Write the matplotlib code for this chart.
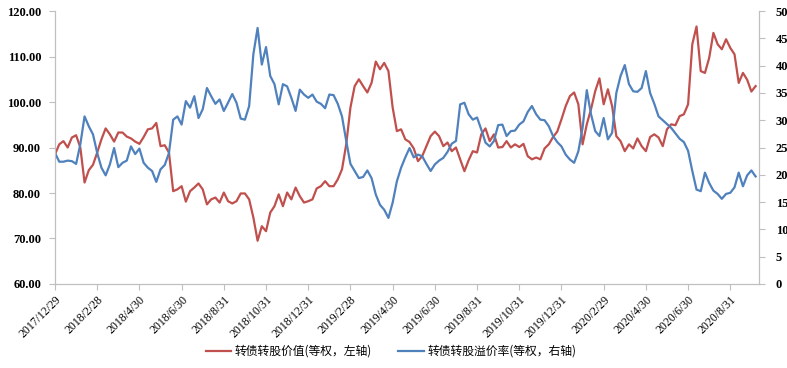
import numpy as np
import matplotlib.pyplot as plt

# tick labels, one every 10 samples
tick_labels = ['2017/12/29', '2018/2/28', '2018/4/30', '2018/6/30', '2018/8/31',
               '2018/10/31', '2018/12/31', '2019/2/28', '2019/4/30', '2019/6/30',
               '2019/8/31', '2019/10/31', '2019/12/31', '2020/2/29', '2020/4/30',
               '2020/6/30', '2020/8/31']

# 转债转股价值 (left axis)
conv_value = [
    88.5, 90.7, 91.4, 90.0, 92.2, 92.7, 90.0, 82.3, 85.0, 86.2,
    88.9, 91.8, 94.2, 92.9, 91.3, 93.3, 93.3, 92.4, 92.0, 91.3,
    90.8, 92.3, 94.0, 94.2, 95.4, 90.3, 90.5, 88.9, 80.4, 80.8,
    81.5, 78.1, 80.4, 81.2, 82.1, 80.8, 77.5, 78.6, 79.0, 77.9,
    80.1, 78.2, 77.7, 78.2, 79.9, 79.9, 78.6, 74.6, 69.5, 72.7,
    71.6, 75.7, 77.1, 79.7, 77.1, 80.1, 78.6, 81.2, 79.3, 77.9,
    78.2, 78.6, 81.0, 81.5, 82.6, 81.5, 81.5, 83.0, 85.2, 90.7,
    98.8, 103.5, 105.0, 103.5, 102.1, 104.2, 108.9, 107.2, 108.6, 106.8,
    98.8, 93.6, 94.0, 91.8, 91.2, 89.8, 87.0, 88.1, 90.3, 92.5,
    93.5, 92.5, 90.3, 91.1, 89.2, 90.0, 87.4, 84.8, 87.2, 89.2,
    88.9, 92.9, 94.2, 91.4, 92.9, 90.0, 90.1, 91.4, 90.0, 90.7,
    90.1, 90.8, 88.1, 87.4, 87.8, 87.4, 89.8, 90.7, 92.3, 93.5,
    96.2, 99.1, 101.3, 102.1, 99.5, 90.7, 95.1, 98.4, 102.4, 105.2,
    99.5, 102.8, 99.1, 92.5, 91.4, 89.2, 90.7, 89.8, 92.0, 90.3,
    89.2, 92.3, 92.9, 92.2, 90.3, 94.0, 95.1, 94.9, 96.9, 97.3,
    99.5, 112.7, 116.6, 106.8, 106.4, 109.7, 115.2, 112.7, 111.6, 113.8,
    111.9, 110.5, 104.2, 106.4, 104.9, 102.3, 103.5]

# 转债转股溢价率 (right axis)
premium = [
    24.0, 22.4, 22.4, 22.6, 22.5, 22.0, 25.6, 30.7, 28.9, 27.4,
    24.0, 21.3, 19.9, 21.9, 24.9, 21.4, 22.2, 22.6, 25.2, 23.8,
    24.8, 22.2, 21.3, 20.7, 18.7, 21.0, 21.8, 24.0, 30.1, 30.7,
    29.2, 33.5, 32.3, 34.4, 30.4, 32.0, 35.9, 34.4, 33.0, 33.8,
    31.7, 33.2, 34.8, 33.2, 30.3, 30.1, 32.6, 42.1, 46.9, 40.2,
    43.4, 38.1, 36.6, 32.9, 36.6, 36.2, 34.1, 31.7, 35.6, 34.7,
    34.1, 34.7, 33.4, 33.0, 32.2, 34.7, 34.6, 33.0, 30.7, 26.2,
    22.0, 20.7, 19.4, 19.6, 20.8, 19.4, 16.4, 14.5, 13.6, 12.1,
    14.9, 18.8, 21.3, 23.2, 24.9, 23.2, 23.7, 23.4, 22.0, 20.7,
    21.9, 22.6, 23.1, 24.2, 25.7, 26.2, 32.9, 33.2, 31.1, 30.1,
    30.5, 28.3, 25.9, 25.2, 26.2, 29.1, 29.2, 27.1, 28.0, 28.1,
    29.2, 29.8, 31.5, 32.6, 31.1, 30.1, 30.0, 28.9, 27.1, 26.0,
    25.2, 23.7, 22.8, 22.2, 24.3, 28.6, 35.5, 31.1, 28.0, 27.1,
    30.4, 26.5, 27.7, 35.0, 38.1, 40.1, 36.6, 35.3, 35.2, 35.9,
    39.0, 35.0, 33.0, 30.7, 30.0, 29.3, 28.6, 27.6, 26.6, 26.0,
    24.4, 20.7, 17.3, 17.0, 20.4, 18.5, 17.1, 16.5, 15.6, 16.5,
    16.7, 17.7, 20.4, 17.9, 19.9, 20.8, 19.7]

red = '#C0504D'
blue = '#4F81BD'
grey = '#BFBFBF'
serif = 'Liberation Serif'
cjk = ['Noto Sans CJK SC', 'DejaVu Sans']

x = np.arange(len(conv_value))

fig = plt.figure(figsize=(7.87, 3.68), dpi=100)
ax = fig.add_axes([0.0699, 0.2283, 0.8945, 0.7417])
ax2 = ax.twinx()

l1, = ax.plot(x, conv_value, color=red, lw=1.6, label='转债转股价值(等权，左轴)')
l2, = ax2.plot(x, premium, color=blue, lw=1.6, label='转债转股溢价率(等权，右轴)')

ax.set_xlim(0, 166.8)
ax.set_ylim(60, 120)
ax.set_yticks(np.arange(60, 121, 10))
ax.set_yticklabels([f'{v:.2f}' for v in np.arange(60, 121, 10)],
                   fontfamily=serif, fontweight='bold', fontsize=9)
ax2.set_ylim(0, 50)
ax2.set_yticks(np.arange(0, 51, 5))
ax2.set_yticklabels([str(v) for v in range(0, 51, 5)],
                    fontfamily=serif, fontweight='bold', fontsize=9)

ax.set_xticks(np.arange(0, 10 * len(tick_labels), 10))
ax.set_xticklabels(tick_labels, rotation=45, ha='right', va='top',
                   rotation_mode='anchor', fontfamily=serif, fontsize=8.5)

for a in (ax, ax2):
    a.spines['top'].set_visible(False)
    for s in ('left', 'right', 'bottom'):
        a.spines[s].set_color(grey)
    a.tick_params(colors=grey, labelcolor='black', length=4, width=0.8)
ax.tick_params(axis='x', pad=3)
ax.tick_params(axis='y', pad=6)
ax2.tick_params(axis='y', pad=8)

fig.legend(handles=[l1, l2], loc='center', bbox_to_anchor=(0.497, 0.045),
           ncol=2, frameon=False, prop={'family': cjk, 'size': 8.5},
           handlelength=2.2, handletextpad=0.3, columnspacing=2.2)

fig.savefig('out.png', dpi=100)
